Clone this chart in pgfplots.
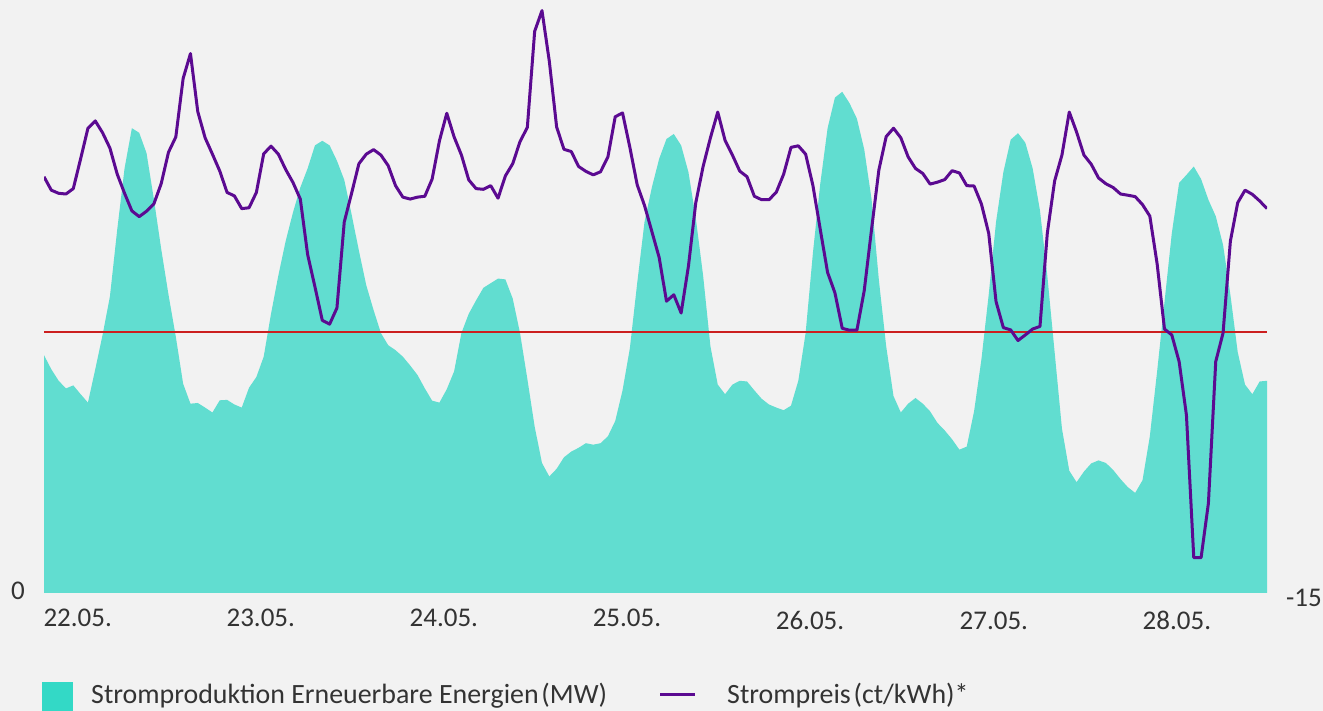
\documentclass[border=0pt]{standalone}
\usepackage{fontspec}
\setmainfont{Carlito}
\usepackage{pgfplots}
\pgfplotsset{compat=1.18}
\usepackage{pgfplotstable}
\definecolor{bg}{HTML}{F2F2F2}
\definecolor{areafill}{HTML}{61DDD0}
\definecolor{areaL}{HTML}{33D9C6}
\definecolor{preis}{HTML}{5B0A91}
\definecolor{nulllinie}{HTML}{CC1F1F}
\definecolor{txt}{HTML}{333333}

\pgfplotstableread{
i mw
0 23780
1 22370
2 21220
3 20460
4 20760
5 19880
6 19040
7 22370
8 25810
9 29640
10 36340
11 42460
12 46480
13 46020
14 43990
15 39400
16 34420
17 29830
18 25620
19 20920
20 18930
21 19000
22 18540
23 18050
24 19270
25 19310
26 18850
27 18540
28 20530
29 21600
30 23630
31 27920
32 31750
33 35190
34 38060
35 40550
36 42460
37 44760
38 45220
39 44760
40 43230
41 41310
42 37870
43 34230
44 30790
45 28300
46 26000
47 24780
48 24280
49 23630
50 22750
51 21800
52 20460
53 19230
54 19040
55 20380
56 22160
57 26000
58 27920
59 29260
60 30520
61 30980
62 31440
63 31360
64 29450
65 26000
66 21410
67 16630
68 13000
69 11650
70 12420
71 13570
72 14140
73 14520
74 14980
75 14830
76 14980
77 15670
78 17200
79 20260
80 24470
81 30980
82 37100
83 40550
84 43420
85 45400
86 45900
87 44760
88 42080
89 37490
90 31750
91 24670
92 20840
93 19880
94 20840
95 21220
96 21150
97 20260
98 19420
99 18850
100 18540
101 18280
102 18730
103 21220
104 26000
105 34040
106 40930
107 46480
108 49540
109 50120
110 48970
111 47440
112 44370
113 39400
114 31300
115 24670
116 19690
117 18050
118 18930
119 19500
120 18930
121 18160
122 17010
123 16250
124 15370
125 14330
126 14640
127 18160
128 23330
129 29830
130 37100
131 42080
132 45330
133 45980
134 45030
135 42460
136 38250
137 31750
138 24090
139 16440
140 12230
141 11080
142 12140
143 12960
144 13260
145 13000
146 12300
147 11390
148 10580
149 10010
150 11270
151 15670
152 22180
153 29070
154 35960
155 41010
156 41810
157 42650
158 41390
159 39320
160 37680
161 34810
162 29830
163 24090
164 20840
165 19880
166 21150
167 21220
}\areadata

\pgfplotstableread{
i p
0 8.92
1 8.15
2 7.97
3 7.93
4 8.24
5 9.95
6 11.71
7 12.13
8 11.45
9 10.57
10 9.07
11 7.97
12 6.96
13 6.63
14 6.94
15 7.36
16 8.52
17 10.33
18 11.21
19 14.57
20 16.00
21 12.66
22 11.16
23 10.22
24 9.25
25 8.02
26 7.82
27 7.09
28 7.14
29 8.02
30 10.24
31 10.68
32 10.22
33 9.34
34 8.59
35 7.64
36 4.45
37 2.59
38 0.67
39 0.45
40 1.38
41 6.32
42 7.97
43 9.67
44 10.22
45 10.48
46 10.17
47 9.56
48 8.41
49 7.75
50 7.64
51 7.75
52 7.80
53 8.79
54 10.99
55 12.57
56 11.21
57 10.17
58 8.74
59 8.24
60 8.20
61 8.41
62 7.69
63 8.97
64 9.67
65 10.94
66 11.76
67 17.28
68 18.47
69 15.56
70 11.78
71 10.50
72 10.37
73 9.51
74 9.23
75 9.03
76 9.21
77 10.06
78 12.37
79 12.59
80 10.61
81 8.46
82 7.27
83 5.78
84 4.28
85 1.77
86 2.14
87 1.09
88 3.79
89 7.43
90 9.51
91 11.16
92 12.64
93 11.01
94 10.17
95 9.25
96 8.92
97 7.80
98 7.60
99 7.60
100 8.04
101 9.07
102 10.61
103 10.70
104 10.22
105 8.41
106 5.89
107 3.42
108 2.25
109 0.21
110 0.10
111 0.10
112 2.37
113 5.89
114 9.31
115 11.23
116 11.71
117 11.16
118 10.06
119 9.40
120 9.11
121 8.50
122 8.61
123 8.76
124 9.27
125 9.14
126 8.41
127 8.39
128 7.36
129 5.67
130 1.75
131 0.25
132 0.12
133 -0.49
134 -0.17
135 0.17
136 0.32
137 5.67
138 8.68
139 10.17
140 12.64
141 11.49
142 10.17
143 9.64
144 8.85
145 8.52
146 8.30
147 7.93
148 7.86
149 7.78
150 7.32
151 6.66
152 3.91
153 0.17
154 -0.17
155 -1.70
156 -4.78
157 -12.97
158 -12.97
159 -9.84
160 -1.70
161 -0.06
162 5.22
163 7.43
164 8.15
165 7.91
166 7.53
167 7.09
}\pricedata

\pgfplotsset{
  base/.style={
    scale only axis, width=1223pt, height=588pt,
    xmin=0, xmax=167,
    axis line style={draw=none},
    major tick length=0pt,
    tick style={draw=none},
    scaled y ticks=false, scaled x ticks=false,
    tick label style={font=\fontsize{27}{32}\selectfont, text=txt, inner sep=0pt},
  }
}

\begin{document}
\begin{tikzpicture}
\useasboundingbox (0pt,0pt) rectangle (1323pt,711pt);
\fill[bg] (0pt,0pt) rectangle (1323pt,711pt);
\coordinate (O) at (44pt,118pt);

\begin{axis}[base, name=A, at={(O)}, anchor=south west,
  ymin=0, ymax=58800,
  ytick={0}, yticklabels={0},
  yticklabel style={anchor=base east, xshift=-19pt, yshift=-7pt},
  xtick={4.6,29.6,54.6,79.6,104.6,129.7,154.7},
  xticklabels={22.05.,23.05.,24.05.,25.05.,\raisebox{-3pt}{26.05.},\raisebox{-3pt}{27.05.},\raisebox{-3pt}{28.05.}},
  xticklabel style={anchor=base, yshift=-34pt},
]
\addplot[draw=none, fill=areafill] table[x=i, y=mw] {\areadata} \closedcycle;
\end{axis}

\begin{axis}[base, at={(A.south west)}, anchor=south west,
  ymin=-15, ymax=18.7931,
  xtick=\empty,
  ytick={-15}, yticklabels={-15},
  yticklabel pos=right,
  yticklabel style={anchor=base west, xshift=19pt, yshift=-14pt},
]
\addplot[nulllinie, line width=1.8pt] coordinates {(0,0) (167,0)};
\addplot[preis, line width=3pt, line join=round] table[x=i, y=p] {\pricedata};
\end{axis}

% legend
\begin{scope}
\clip (0pt,0pt) rectangle (1323pt,711pt);
\fill[areaL] (42pt,-2pt) rectangle (73pt,29pt);
\end{scope}
\node[anchor=base west, inner sep=0pt, text=txt, font=\fontsize{27.9}{32}\selectfont] at (91pt,7pt) {Stromproduktion Erneuerbare Energien\hspace{0.1em}(MW)};
\draw[preis, line width=3pt] (660pt,16pt) -- (695pt,16pt);
\node[anchor=base west, inner sep=0pt, text=txt, font=\fontsize{27.9}{32}\selectfont] at (727pt,7pt) {Strompreis\hspace{0.1em}(ct/kWh)*};
\end{tikzpicture}
\end{document}
